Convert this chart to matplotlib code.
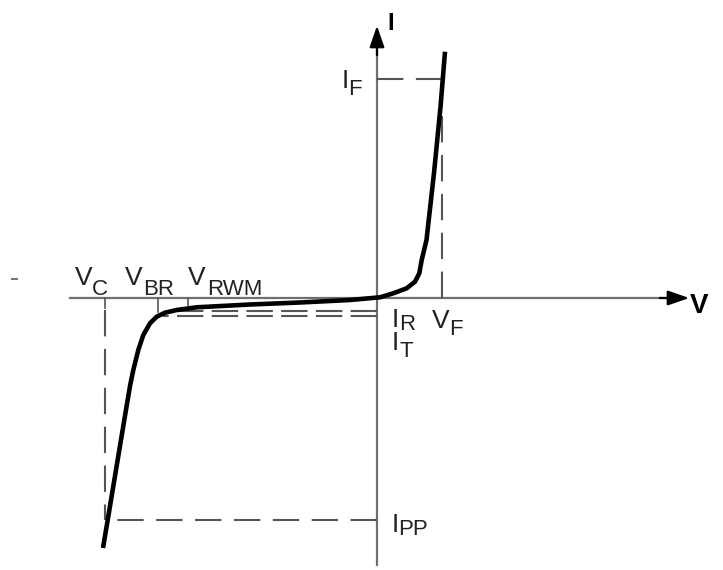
import matplotlib
matplotlib.use("Agg")
import matplotlib.pyplot as plt

plt.rcParams['font.family'] = ['Liberation Sans', 'DejaVu Sans']
plt.rcParams['lines.scale_dashes'] = False

# TVS diode I-V characteristic (arbitrary units, origin at axis crossing)
curve_v = [-274, -269.3, -257.7, -250.2, -246.8, -243.7, -238.7, -233.7, -227, -220.3,
           -212, -200.3, -180.3, -127, -77, -27, 3, 16.3, 29.7, 38, 42.3, 44.7,
           49.5, 57, 63.5, 68]
curve_i = [-250, -222, -152, -107, -87, -72, -52, -37, -25.3, -18.7,
           -14.7, -12, -9.3, -6.5, -4.5, -2, 0.7, 4.7, 9.7, 16.3, 24.7, 38,
           58, 125, 191, 246.3]

# characteristic levels
v_c, v_br, v_rwm, v_f = -272, -219, -189, 65
i_f, i_pp, i_r, i_t = 219, -222, -13, -18

fig = plt.figure(figsize=(7.23, 5.70), dpi=100)
ax = fig.add_axes([0, 0, 1, 1])
ax.set_xlim(-377, 346)
ax.set_ylim(-272, 298)
ax.axis('off')

axis_col = '#707070'
dash_col = '#555555'
long_dash = (0, (19, 9))
short_gap = (0, (19, 6))

# axes with arrow heads
ax.plot([-307, 300], [0, 0], color=axis_col, lw=1.6, zorder=1)
ax.plot([0, 0], [-267, 255], color=axis_col, lw=1.6, zorder=1)
ax.annotate('', xy=(315, 0), xytext=(280, 0),
            arrowprops=dict(arrowstyle='-|>,head_length=1.3,head_width=0.45',
                            color='black', lw=1.6))
ax.annotate('', xy=(0, 275), xytext=(0, 240),
            arrowprops=dict(arrowstyle='-|>,head_length=1.3,head_width=0.45',
                            color='black', lw=1.6))

# ticks
ax.plot([v_c, v_c], [0, -10], color=dash_col, lw=1.2)
ax.plot([v_br, v_br], [0, -14], color=dash_col, lw=1.2)
ax.plot([v_rwm, v_rwm], [0, -7], color=dash_col, lw=1.2)

# dashed guides
ax.plot([v_c, v_c], [-12, i_pp], color=dash_col, lw=1.5, linestyle=long_dash)
ax.plot([0, v_c], [i_pp, i_pp], color=dash_col, lw=1.5, linestyle=long_dash)
ax.plot([0, -207], [i_r, i_r], color=dash_col, lw=1.5, linestyle=short_gap)
ax.plot([0, -214], [i_t, i_t], color=dash_col, lw=1.5, linestyle=short_gap)
ax.plot([v_f, v_f], [0, i_f], color=dash_col, lw=1.5, linestyle=long_dash)
ax.plot([0, v_f], [i_f, i_f], color=dash_col, lw=1.5, linestyle=long_dash)

# curve
ax.plot(curve_v, curve_i, color='black', lw=3.3, solid_capstyle='butt',
        solid_joinstyle='round', zorder=3)

# labels: (main, sub, x, y of main baseline, x, y of sub baseline)
labels = [
    ('V', 'C', -302, 13, -285, 3),
    ('V', 'BR', -252, 13, -234, 3),
    ('V', 'RWM', -189, 13, -170, 3),
    ('I', 'F', -35, 210, -29, 203),
    ('I', 'R', 15, -29, 22, -32),
    ('I', 'T', 15, -52, 22, -59),
    ('V', 'F', 55, -30, 72, -37),
    ('I', 'PP', 15, -234, 21, -237),
]
for main, sub, mx, my, sx, sy in labels:
    ax.text(mx, my, main, fontsize=19, va='baseline', ha='left', color='#222222')
    ax.text(sx, sy, sub, fontsize=16, va='baseline', ha='left', color='#222222')

ax.text(10, 268, 'I', fontsize=17, fontweight='bold', va='baseline', ha='left')
ax.text(313, -15, 'V', fontsize=20, fontweight='bold', va='baseline', ha='left')

# small stray mark at left
ax.plot([-365, -360], [19, 19], color='#777777', lw=1.5)

fig.savefig('out.png', dpi=100)
